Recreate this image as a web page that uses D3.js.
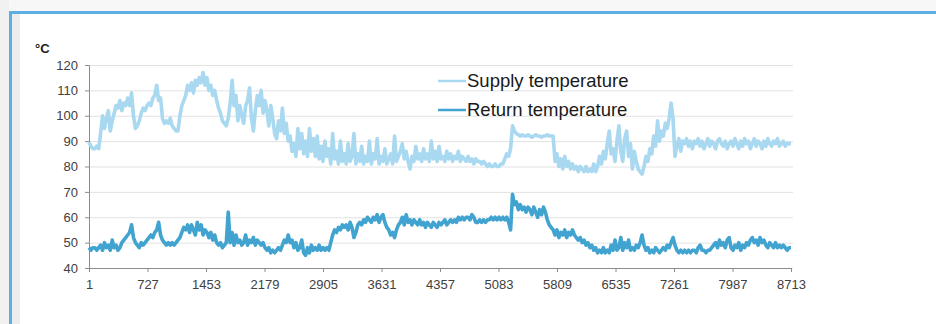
<!DOCTYPE html>
<html>
<head>
<meta charset="utf-8">
<script src="https://cdn.jsdelivr.net/npm/d3@7"></script>
<style>
  html, body { margin: 0; padding: 0; background: #fff; }
  svg { display: block; font-family: "Liberation Sans", Arial, sans-serif; }
</style>
</head>
<body>
<div class="chart"></div>
<script>
const width = 936;
const height = 324;

// hour ticks on the x axis, degrees on the y axis
const xTicks = [1, 727, 1453, 2179, 2905, 3631, 4357, 5083, 5809, 6535, 7261, 7987, 8713];
const yTicks = [40, 50, 60, 70, 80, 90, 100, 110, 120];
const seriesNames = ["Supply temperature", "Return temperature"];

// one reading per day
const supply = [
  89.5, 88, 87, 87, 88, 87, 93, 100, 95, 99, 102, 94,
  98, 101, 104, 103, 106, 102, 105, 104, 107, 104, 109, 100, 95, 96, 98, 101, 103, 102,
  104, 105, 104, 107, 108, 112, 106, 107, 99, 97, 98, 97, 99, 96, 95, 94, 94, 100,
  104, 106, 108, 112, 110, 113, 109, 114, 112, 115, 113, 117, 112, 115, 110, 112, 108, 110,
  106, 103, 101, 98, 97, 96, 99, 105, 114, 104, 108, 98, 104, 100, 97, 104, 106, 111,
  99, 94, 102, 108, 104, 110, 101, 106, 102, 96, 104, 99, 93, 91, 98, 94, 103, 93,
  97, 90, 92, 86, 89, 84, 95, 87, 93, 85, 90, 84, 95, 86, 91, 84, 92, 83,
  88, 82, 90, 84, 87, 81, 93, 83, 86, 81, 90, 82, 85, 81, 89, 82, 84, 93,
  81, 85, 82, 88, 81, 84, 82, 90, 81, 85, 83, 91, 81, 84, 82, 87, 81, 83,
  85, 81, 92, 82, 84, 86, 89, 83, 86, 82, 79, 84, 82, 88, 83, 85, 82, 87,
  83, 85, 82, 90, 83, 86, 82, 88, 83, 84, 82, 86, 83, 85, 82, 84, 83, 86,
  82, 84, 83, 82, 84, 82, 83, 81, 83, 82, 82, 81, 82, 81, 80, 81, 80, 80,
  81, 80, 80, 81, 81, 83, 85, 84, 87, 96, 94, 93,
  92.5, 92, 92.5, 92, 92, 92.5, 92, 91.5, 92, 92.5, 92, 92, 91.5, 92, 92, 92.5, 92, 92, 92,
  82, 85, 80, 83, 79, 84, 80, 82, 79, 81, 79, 80, 78, 80, 79, 78, 80, 78,
  79, 78, 81, 78, 80, 84, 81, 86, 83, 89, 94, 85, 87, 82, 90, 96, 86, 82,
  91, 94, 84, 89, 79, 86, 82, 79, 78, 77, 80, 84, 82, 87, 85, 92, 88, 98,
  90, 94, 92, 97, 95, 99, 105, 99, 84, 88, 91, 86, 90, 89, 91, 88,
  90, 87, 90, 89, 91, 88, 90, 87, 89, 91, 88, 90, 89, 87, 90, 91, 89, 88,
  90, 87, 89, 90, 88, 91, 89, 87, 90, 88, 91, 89, 90, 87, 89, 91, 88, 90,
  89, 87, 90, 88, 91, 89, 88, 90, 89, 91, 88, 89, 90, 88, 89, 89, 89
];

const returnTemp = [
  48, 47, 48, 48, 47, 48, 49, 47, 50, 48, 49, 47, 51, 48, 49, 47, 48, 50,
  51, 52, 53, 54, 57, 52, 50, 49, 48, 50, 49, 50, 51, 52, 53, 52, 54, 55,
  58, 53, 51, 50, 49, 50, 49, 50, 49, 50, 51, 52, 54, 56, 55, 57, 54, 57,
  55, 53, 58, 55, 57, 53, 55, 54, 52, 54, 51, 53, 50, 49, 50, 48, 49, 50,
  62, 50, 54, 49, 53, 50, 51, 49, 50, 53, 49, 51, 50, 52, 49, 51, 50, 49,
  50, 48, 47, 48, 46, 47, 46, 47, 48, 47, 49, 51, 50, 53, 50, 51, 48, 50,
  47, 48, 51, 46, 45, 48, 46, 49, 47, 48, 47, 49, 47, 48, 47, 48, 47, 50,
  53, 55, 54, 56, 55, 57, 56, 57, 55, 58, 56, 52, 54, 57, 58, 57, 59, 58,
  60, 59, 58, 60, 59, 61, 58, 60, 61, 58, 56, 55, 53, 54, 52, 55, 57, 58,
  60, 57, 61, 58, 59, 57, 59, 58, 57, 59, 57, 58, 56, 58, 57, 56, 58, 57,
  56, 58, 57, 58, 59, 57, 58, 59, 58, 59, 58, 60, 59, 60, 59, 60, 60, 59,
  61, 60, 58, 58, 59, 58, 59, 58, 59, 59, 60, 59, 60, 59, 60, 59, 60, 59,
  60, 58, 55, 69, 65, 66, 63, 65, 63, 64, 62, 64, 63, 61, 64, 62, 60, 63,
  61, 64, 62, 59, 57, 56, 55, 53, 55, 52, 54, 53, 55, 52, 54, 53, 55, 53,
  52, 51, 52, 50, 51, 49, 50, 48, 49, 47, 48, 46, 47, 46, 48, 46, 47, 46,
  49, 47, 51, 47, 48, 52, 47, 50, 48, 51, 47, 48, 47, 49, 48, 50, 53, 49,
  47, 48, 46, 47, 46, 48, 47, 46, 47, 48, 47, 49, 48, 50, 52, 49, 47, 46,
  47, 46, 47, 46, 47, 46, 47, 47, 46, 48, 49, 47, 47, 46, 47, 47, 48, 49,
  50, 48, 51, 49, 50, 48, 51, 52, 48, 47, 49, 48, 50, 47, 49, 48, 50, 49,
  51, 52, 50, 51, 49, 52, 50, 51, 49, 48, 50, 49, 48, 50, 48, 49, 48, 49,
  48, 47, 48, 48
];

const colors = ["#a9d8f1", "#41a3cf"];

const svg = d3.select(".chart").append("svg")
  .attr("width", width)
  .attr("height", height);

// page frame around the chart
svg.append("rect").attr("x", 0).attr("y", 0).attr("width", width).attr("height", 11).attr("fill", "#f7f7f7");
svg.append("rect").attr("x", 0).attr("y", 0).attr("width", 9).attr("height", height).attr("fill", "#f1f1f1");
svg.append("rect").attr("x", 12).attr("y", 14).attr("width", 8).attr("height", height).attr("fill", "#ececec");
svg.append("rect").attr("x", 9).attr("y", 11).attr("width", width).attr("height", 3).attr("fill", "#5eaee3");
svg.append("rect").attr("x", 9).attr("y", 11).attr("width", 3).attr("height", height).attr("fill", "#5eaee3");

const x = d3.scaleLinear().domain([1, 8713]).range([89, 791]);
const y = d3.scaleLinear().domain([40, 120]).range([268, 65]);

// grid
svg.append("g")
  .attr("transform", "translate(89,0)")
  .call(d3.axisLeft(y).tickValues(yTicks).tickSize(-704).tickFormat(""))
  .call(g => g.select(".domain").remove())
  .call(g => g.selectAll("line").attr("stroke", "#e2e2e2"));

// y axis
svg.append("g")
  .attr("transform", "translate(89,0)")
  .call(d3.axisLeft(y).tickValues(yTicks).tickSize(4).tickPadding(7))
  .call(g => g.select(".domain").attr("stroke", "#8c8c8c"))
  .call(g => g.selectAll("line").attr("stroke", "#8c8c8c"))
  .call(g => g.selectAll("text").attr("fill", "#404040").style("font-size", "13px").style("font-family", "Liberation Sans, Arial, sans-serif"));

// x axis
svg.append("g")
  .attr("transform", "translate(0,268)")
  .call(d3.axisBottom(x).tickValues(xTicks).tickSize(4).tickPadding(8).tickFormat(d3.format("d")))
  .call(g => g.select(".domain").attr("stroke", "#8c8c8c"))
  .call(g => g.selectAll("line").attr("stroke", "#8c8c8c"))
  .call(g => g.selectAll("text").attr("fill", "#404040").style("font-size", "13px").style("font-family", "Liberation Sans, Arial, sans-serif"));

svg.append("text")
  .attr("x", 35)
  .attr("y", 53)
  .attr("fill", "#222")
  .style("font-size", "13px")
  .style("font-weight", "bold")
  .text("°C");

function hourOf(i, n) {
  return 1 + i * (8712 / (n - 1));
}

const line = d3.line()
  .x((d, i, arr) => x(hourOf(i, arr.length)))
  .y(d => y(d));

[supply, returnTemp].forEach((series, k) => {
  svg.append("path")
    .datum(series)
    .attr("fill", "none")
    .attr("stroke", colors[k])
    .attr("stroke-width", 3.6)
    .attr("stroke-linejoin", "round")
    .attr("d", line);
});

// legend
const legend = svg.append("g");
seriesNames.forEach((name, k) => {
  const ly = 81 + k * 29;
  legend.append("line")
    .attr("x1", 438).attr("x2", 466)
    .attr("y1", ly).attr("y2", ly)
    .attr("stroke", colors[k])
    .attr("stroke-width", 2.5);
  legend.append("text")
    .attr("x", 467)
    .attr("y", ly + 6)
    .attr("fill", "#1a1a1a")
    .style("font-size", "18.5px")
    .text(name);
});
</script>
</body>
</html>
